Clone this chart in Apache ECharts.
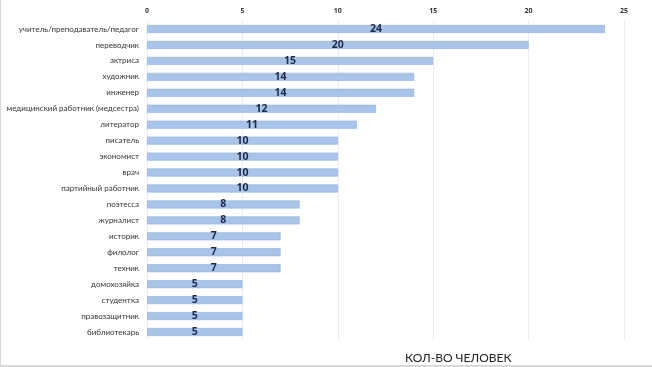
<!DOCTYPE html>
<html><head><meta charset="utf-8">
<script src="https://cdn.jsdelivr.net/npm/echarts@6/dist/echarts.min.js"></script>
<style>html,body{margin:0;padding:0;background:#fff}#c{width:652px;height:367px;box-sizing:border-box;border-left:1px solid #d9d9d9;border-bottom:2px solid #d9d9d9}</style>
</head><body><div id="c"></div>
<script>
var categories = ["учитель/преподаватель/педагог","переводчик","актриса","художник","инженер","медицинский работник (медсестра)","литератор","писатель","экономист","врач","партийный работник","поэтесса","журналист","историк","филолог","техник","домохозяйка","студентка","правозащитник","библиотекарь"];
var values = [24,20,15,14,14,12,11,10,10,10,10,8,8,7,7,7,5,5,5,5];
var axisTitle = "КОЛ-ВО ЧЕЛОВЕК";
var chart = echarts.init(document.getElementById('c'));
chart.setOption({
  animation:false,
  grid:{left:146,right:28,top:21,bottom:25},
  title:{text:axisTitle,left:399,top:347,textStyle:{fontFamily:'Lato',fontSize:12,fontWeight:'normal',color:'#222'}},
  xAxis:{type:'value',position:'top',min:0,max:25,interval:5,
    axisLine:{show:false},axisTick:{show:false},
    axisLabel:{fontFamily:'Open Sans',fontWeight:'bold',fontSize:7,color:'#333',margin:7},
    splitLine:{lineStyle:{color:'#ececec',width:1}}},
  yAxis:{type:'category',data:categories,inverse:true,
    axisLine:{show:false},axisTick:{show:false},
    axisLabel:{fontFamily:'Lato',fontSize:8,color:'#333',margin:8}},
  series:[{type:'bar',data:values,barWidth:8,
    itemStyle:{color:'#a9c4e8',borderColor:'#8fb0dc',borderWidth:0.6},
    label:{show:true,position:'inside',fontFamily:'Open Sans',fontWeight:'bold',fontSize:10.5,color:'#1b2a48'}}]
});
</script></body></html>
